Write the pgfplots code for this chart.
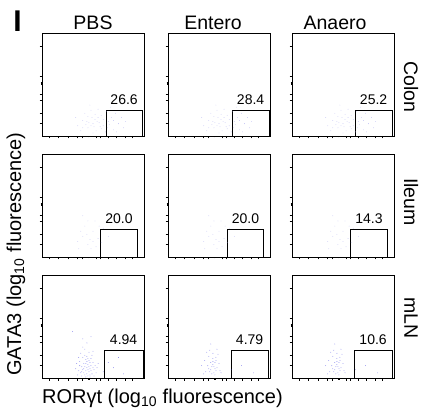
\documentclass[border=0pt]{standalone}
\usepackage{fontspec}
\setmainfont{Liberation Sans}
\usepackage{pgfplots}
\pgfplotsset{compat=1.18}
\usepackage{pgfplotstable}

\definecolor{dotlight}{RGB}{170,170,238}
\definecolor{dotblue}{RGB}{60,60,225}

% events, in % of each axis
\pgfplotstableread{
x y
35 10
40 15
45 8
50 12
55 18
60 10
65 14
70 6
75 12
80 8
42 22
48 25
53 5
58 20
63 24
68 18
72 22
38 5
44 14
52 16
57 9
62 4
67 28
47 30
55 26
50 3
45 19
60 16
70 15
78 18
33 18
40 8
48 10
56 13
64 8
73 4
82 14
52 21
58 7
66 11
46 13
51 9
54 14
49 18
43 11
}\colontab

\pgfplotstableread{
x y
35 15
40 20
45 12
50 25
55 18
42 30
48 8
52 35
38 25
58 14
44 22
60 28
47 17
53 10
40 40
65 20
36 8
50 15
56 30
45 35
}\ileumtab

\pgfplotstableread{
x y
38 5
40 8
42 3
44 10
46 6
48 12
41 14
43 18
45 2
47 9
49 4
50 15
39 11
37 16
36 7
44 21
46 25
42 28
48 19
51 8
52 12
40 20
35 3
33 9
47 15
45 13
43 7
41 9
44 4
46 17
49 22
38 24
40 30
53 5
54 10
34 14
42 11
45 8
47 3
43 14
39 6
48 7
50 10
41 5
46 11
44 16
42 22
37 12
45 19
50 26
36 20
55 14
44 34
40 38
47 1
43 1
39 2
51 2
60 6
70 10
80 4
65 15
75 20
30 45
48 40
}\mlnatab

\pgfplotstableread{
x y
37 6
40 9
43 4
45 11
47 7
42 15
44 19
46 3
48 10
50 14
39 12
36 17
44 24
41 27
47 20
51 7
40 21
35 4
46 15
44 13
42 8
45 5
47 17
49 23
38 25
52 5
43 11
46 9
41 6
44 16
42 33
48 28
62 8
72 12
84 5
33 12
}\mlnbtab

\pgfplotsset{
  panel/.style={
    anchor=north west, scale only axis, width=102pt, height=103pt,
    xmin=0, xmax=100, ymin=0, ymax=100,
    axis line style={line width=0.9pt},
    tick align=outside, xtick pos=bottom, ytick pos=left,
    xtick={7,16,26,35,39,53,57,65,73,82,88},
    ytick={12,22,35,41,58,87},
    xticklabels={}, yticklabels={},
    extra x tick labels={}, extra y tick labels={},
    tick label style={font=\tiny, text opacity=0},
    major tick length=2.5pt,
    tick style={line width=0.5pt, black},
    extra x ticks={46}, extra y ticks={51},
    extra tick style={major tick length=1.5pt, tick style={line width=2.5pt}},
    clip=false,
  },
}

% #1 x, #2 y (pt from top left), #3 table, #4 colour, #5-#6 gate x, #7 gate top, #8 value, #9 value x
\newcommand{\panel}[9]{%
  \begin{axis}[panel, at={(#1pt,-#2pt)}]
    \addplot[only marks, color=#4, mark=*, mark size=0.4pt,
      mark options={draw opacity=0, fill=#4, fill opacity=0.75}] table {#3};
    \addplot[black, line width=0.9pt] coordinates {(#5,0) (#5,#7) (#6,#7) (#6,0)};
    \node[anchor=base, inner sep=0pt, yshift=6pt, font=\fontsize{14}{15}\selectfont] at (axis cs:#9,#7) {#8};
  \end{axis}}

\begin{document}
\begin{tikzpicture}
\path (0,0) rectangle (423pt,-419pt);

\panel{42}{33}{\colontab}{dotlight}{63}{98}{25}{26.6}{80.5}
\panel{168}{33}{\colontab}{dotlight}{63}{99}{25}{28.4}{81}
\panel{292}{33}{\colontab}{dotlight}{62}{98}{25}{25.2}{80}

\panel{42}{154}{\ileumtab}{dotlight}{57}{94}{27}{20.0}{75.5}
\panel{168}{154}{\ileumtab}{dotlight}{58}{94}{27}{20.0}{76}
\panel{292}{154}{\ileumtab}{dotlight}{57}{94}{27}{14.3}{75.5}

\panel{42}{275}{\mlnatab}{dotblue}{61}{99}{27}{4.94}{80}
\panel{168}{275}{\mlnbtab}{dotblue}{62}{98}{27}{4.79}{80}
\panel{292}{275}{\mlnbtab}{dotblue}{61}{98}{27}{10.6}{79.5}

\begin{scope}[every node/.style={font=\fontsize{19.5}{21}\selectfont, inner sep=0pt}]
  \node[font=\fontsize{30}{30}\bfseries, anchor=base] at (17.5pt,-32pt) {I};
  \node[anchor=base] at (93pt,-30pt) {PBS};
  \node[anchor=base] at (213pt,-30pt) {Entero};
  \node[anchor=base] at (335pt,-30pt) {Anaero};
  \node[rotate=-90] at (411pt,-87pt) {Colon};
  \node[rotate=-90] at (411pt,-202pt) {Ileum};
  \node[rotate=-90] at (411pt,-318pt) {mLN};
  \node[rotate=90, anchor=base, font=\fontsize{20}{21}\selectfont] at (21pt,-254pt) {GATA3 (log\textsubscript{10} fluorescence)};
  \node[anchor=base west, font=\fontsize{20}{21}\selectfont] at (42pt,-403pt) {RORγt (log\textsubscript{10} fluorescence)};
\end{scope}
\end{tikzpicture}
\end{document}
